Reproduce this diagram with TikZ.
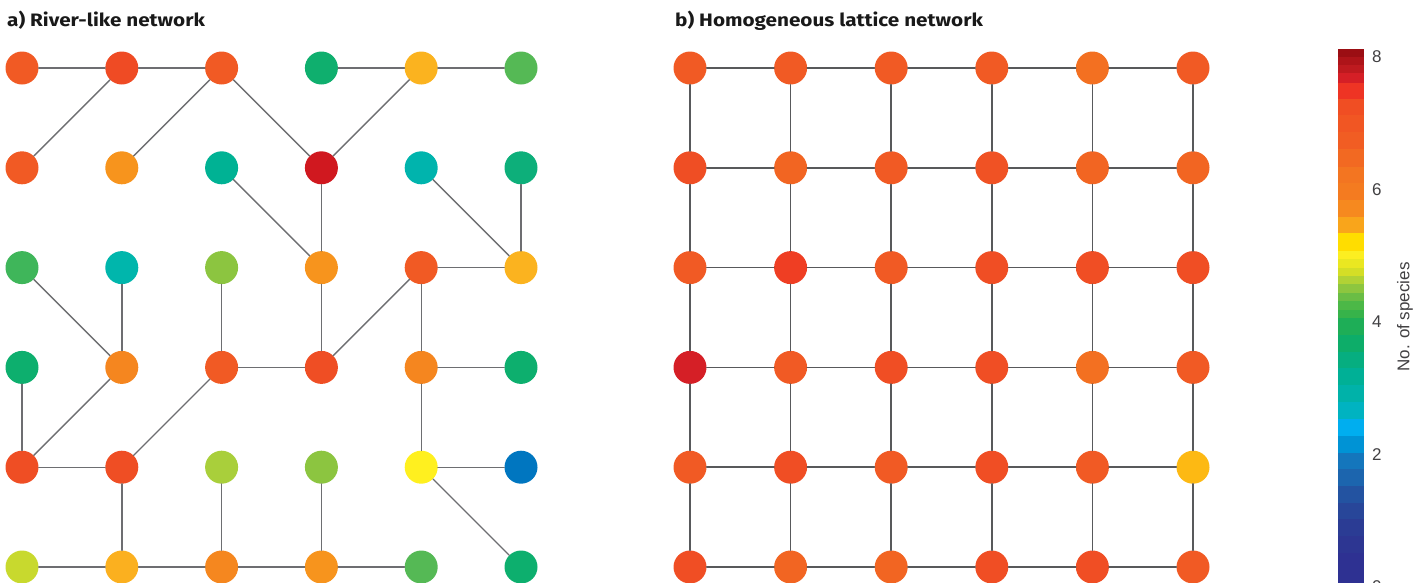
\documentclass[tikz,border=0pt]{standalone}
\usepackage{fontspec}
\setmainfont{Liberation Sans}
\newfontfamily\headfont{Fira Sans}
\definecolor{riverline}{HTML}{6D6E71}
\definecolor{gridline}{HTML}{58595B}
\definecolor{labelgray}{HTML}{414042}
\tikzset{
  site/.style={circle,inner sep=0pt,minimum size=33pt,fill=#1},
  riverlink/.style={draw=riverline,line width=1.4pt},
  gridlink/.style={draw=gridline,line width=1.7pt},
  panel/.style={anchor=base west,inner sep=0pt,xscale=1.15,font=\headfont\bfseries\fontsize{18}{21}\selectfont,text=black!90},
  barlabel/.style={anchor=west,inner sep=0pt,font=\fontsize{17}{20}\selectfont,text=labelgray}
}
\begin{document}
\begin{tikzpicture}[x=1pt,y=-1pt,line cap=round,line join=round]
	\useasboundingbox (0,0) rectangle (1428,582);
	\def\ax{22} \def\bx{690} \def\oy{68} \def\dd{99.8} \def\ddb{100.6}
	\node[panel] (ta) at (7,26) {a) River-like network};
	\node[panel] (tb) at (675,26) {b) Homogeneous lattice network};
	% a) river-like network
	\foreach \row [count=\j] in {{F15A24,EF4B24,F15A24,0FAF6E,FBB31F,55B955},
		{F15A24,F7941D,00B294,D0181F,00B4AD,0DAF7A},
		{3FB65A,00B6AC,8CC540,F7941D,F15A24,FBB31F},
		{0DAF6E,F5861F,F15A24,EF4E24,F5861F,0DAF6E},
		{EF4E24,EF4E24,A9CF3B,8CC540,FFF01F,0076C0},
		{C8D92E,FBB01F,F5871F,F7941D,55B955,0DAF6E}}
	\foreach \col [count=\i] in \row {
		\definecolor{nodefill}{HTML}{\col}
		\node[site=nodefill] (r\i\j) at ({\ax+\dd*(\i-1)},{\oy+\dd*(\j-1)}) {};
	}
	\foreach \p/\q in {11/21,21/31,41/51,51/61,21/12,31/22,31/42,51/42,32/43,42/43,52/63,62/63,
		53/63,13/24,23/24,33/34,43/44,53/44,53/54,34/44,54/64,14/15,24/15,34/25,54/55,
		15/25,55/65,55/66,25/26,35/36,45/46,16/26,26/36,36/46,46/56}
	\draw[riverlink] (r\p) -- (r\q);
	% b) lattice
	\foreach \row [count=\j] in {{F15A24,F15A24,F15A24,F15A24,F37021,F15A24},
		{EF4E24,F26522,F15A24,F05224,F26522,F26522},
		{F15A24,EF3E23,F15A24,F04E24,F04E24,F04E24},
		{D51F26,F15A24,F04E24,F04E24,F37021,F15A24},
		{F15A24,F04E24,F15A24,F04E24,F15A24,FDB913},
		{F04E24,F26522,F26522,F04E24,F04E24,F15A24}}
	\foreach \col [count=\i] in \row {
		\definecolor{nodefill}{HTML}{\col}
		\node[site=nodefill] (g\i\j) at ({\bx+\ddb*(\i-1)},{\oy+\dd*(\j-1)}) {};
	}
	\foreach \i in {1,...,6} \foreach \j in {1,...,5} {
		\pgfmathtruncatemacro\k{\j+1}
		\draw[gridlink] (g\i\j) -- (g\i\k);
		\draw[gridlink] (g\j\i) -- (g\k\i);
	}
	% colour bar
	\foreach \t/\b/\col in {49/56.7/9B0E13,56.7/65/AE1419,65/73.3/BE1A1F,73.3/82.7/D51F26,
		82.7/98.7/EE3424,98.7/115.3/F04E23,115.3/132/F15623,132/149.3/F15D23,149.3/166.7/F26922,
		166.7/182.7/F37521,182.7/200/F47B20,200/216.7/F6891F,216.7/233.3/F9A51B,233.3/251/FFDD00,
		251/259.3/FCEE21,259.3/267.7/EAE721,267.7/276/D4DE26,276/284.3/B1D235,284.3/292.7/8DC63F,
		292.7/301/6ABD45,301/310/4CB847,310/318/37B34A,318/335/1EAE57,335/352/0DAD69,
		352/368/06AE80,368/385/00B096,385/402/00B2A9,402/419/00B3C1,419/436/00AEEF,
		436/453/0093D5,453/469/1476BC,469/486/1C65AE,486/503/2353A1,503/519/284699,
		519/536/2B3C94,536/553/2D3692,553/590/2E3192} {
		\definecolor{bandfill}{HTML}{\col}
		\fill[bandfill] (1338,\t) rectangle (1364,\b);
	}
	\node[barlabel] (v8) at (1372,56.6) {8};
	\node[barlabel] (v6) at (1372,189.2) {6};
	\node[barlabel] (v4) at (1372,321.8) {4};
	\node[barlabel] (v2) at (1372,454.4) {2};
	\node[barlabel] (v0) at (1372,587) {0};
	\node[barlabel,anchor=center,rotate=90] (bartitle) at (1405,317) {No. of species};
\end{tikzpicture}
\end{document}
